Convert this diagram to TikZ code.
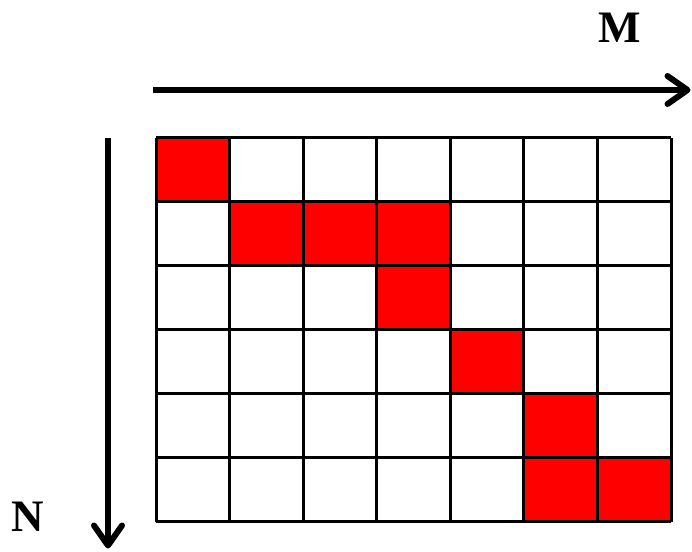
\documentclass[tikz,border=0pt]{standalone}
\usepackage{fontspec}
\setmainfont{Liberation Serif}
\usetikzlibrary{arrows.meta}
\begin{document}
\begin{tikzpicture}[x=1pt,y=-1pt,
  cellred/.style={fill=red},
  gridline/.style={line width=3pt,draw=black},
  axis/.style={line width=6pt,-{Straight Barb[length=20pt,width=28pt,round]}},
  lbl/.style={font=\fontsize{45}{45}\selectfont\bfseries}]
\useasboundingbox (0,0) rectangle (692,551);
% red cells (col,row)
\foreach \c/\r in {0/0,1/1,2/1,3/1,3/2,4/3,5/4,5/5,6/5}{
  \fill[cellred] ({156+\c*73.57},{137.5+\r*64.08}) rectangle ({156+(\c+1)*73.57},{137.5+(\r+1)*64.08});
}
% grid
\foreach \c in {0,...,7}{
  \draw[gridline] ({156+\c*73.57},137.5) -- ({156+\c*73.57},522);
}
\foreach \r in {0,...,6}{
  \draw[gridline] (156,{137.5+\r*64.08}) -- (671,{137.5+\r*64.08});
}
\coordinate (ms) at (153,90);
\coordinate (me) at (690.5,90);
\coordinate (ns) at (108,138);
\coordinate (ne) at (108,548.5);
\draw[axis] (ms) -- (me);
\draw[axis] (ns) -- (ne);
\node[lbl] (M) at (620,28) {M};
\node[lbl] (N) at (28,517) {N};
\end{tikzpicture}
\end{document}
